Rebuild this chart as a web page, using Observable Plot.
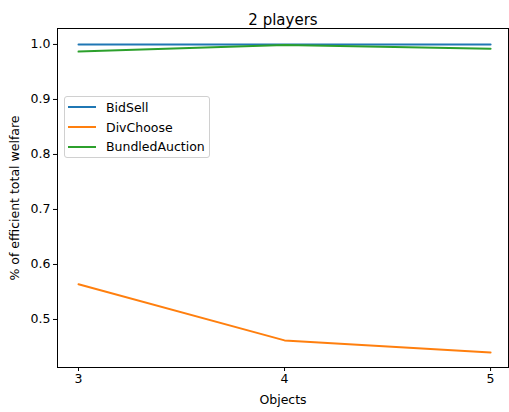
<!DOCTYPE html>
<html>
<head>
<meta charset="utf-8">
<script src="https://cdn.jsdelivr.net/npm/d3@7"></script>
<script src="https://cdn.jsdelivr.net/npm/@observablehq/plot@0.6"></script>
<style>
  body { margin: 0; background: #fff; }
  #wrap { position: relative; width: 509px; height: 412px; font-family: "DejaVu Sans", sans-serif; }
  #legend { position: absolute; left: 64px; top: 96px; width: 146px; height: 62px; box-sizing: border-box;
    border: 1px solid #d0d0d0; border-radius: 3px; background: rgba(255,255,255,0.8); font-size: 12.5px; color: #000; padding: 0.5px 0 0 3px; }
  .li { display: flex; align-items: center; height: 19.7px; }
  .sw { width: 28px; height: 2px; margin-right: 10px; }
</style>
</head>
<body>
<div id="wrap"></div>
<script>
const objects = [3, 4, 5];
const seriesNames = ["BidSell", "DivChoose", "BundledAuction"];
const bidSell = [1.0, 1.0, 1.0];
const divChoose = [0.564, 0.462, 0.440];
const bundledAuction = [0.987, 0.999, 0.992];
const colors = ["#1f77b4", "#ff7f0e", "#2ca02c"];
const yTicks = [0.5, 0.6, 0.7, 0.8, 0.9, 1.0];

const seriesValues = [bidSell, divChoose, bundledAuction];
const rows = [];
seriesNames.forEach((s, i) => objects.forEach((o, j) => rows.push({series: s, objects: o, value: seriesValues[i][j]})));

const chart = Plot.plot({
  width: 509,
  height: 412,
  marginLeft: 57,
  marginRight: 1,
  marginTop: 28,
  marginBottom: 45,
  style: {fontFamily: "'DejaVu Sans', sans-serif", fontSize: "12.5px", color: "#000", background: "#fff"},
  x: {domain: [2.898, 5.087]},
  y: {domain: [0.4127, 1.029]},
  color: {domain: seriesNames, range: colors},
  marks: [
    Plot.frame({stroke: "#000", strokeWidth: 1}),
    Plot.axisX({ticks: objects, tickFormat: d3.format("d"), tickSize: 4, tickPadding: 3, label: "Objects", labelAnchor: "center", labelArrow: "none", labelOffset: 36, fontSize: 12.5}),
    Plot.axisY({ticks: yTicks, tickFormat: d3.format(".1f"), tickSize: 4, tickPadding: 3, label: "% of efficient total welfare", labelAnchor: "center", labelArrow: "none", labelOffset: 47, fontSize: 12.5}),
    Plot.line(rows, {x: "objects", y: "value", z: "series", stroke: "series", strokeWidth: 2}),
    Plot.text(["2 players"], {frameAnchor: "top", dy: -14, fontSize: 15, fill: "#000"})
  ]
});
const wrap = document.getElementById("wrap");
wrap.appendChild(chart);

const legend = document.createElement("div");
legend.id = "legend";
seriesNames.forEach((s, i) => {
  const li = document.createElement("div");
  li.className = "li";
  li.innerHTML = `<span class="sw" style="background:${colors[i]}"></span><span>${s}</span>`;
  legend.appendChild(li);
});
wrap.appendChild(legend);
</script>
</body>
</html>
